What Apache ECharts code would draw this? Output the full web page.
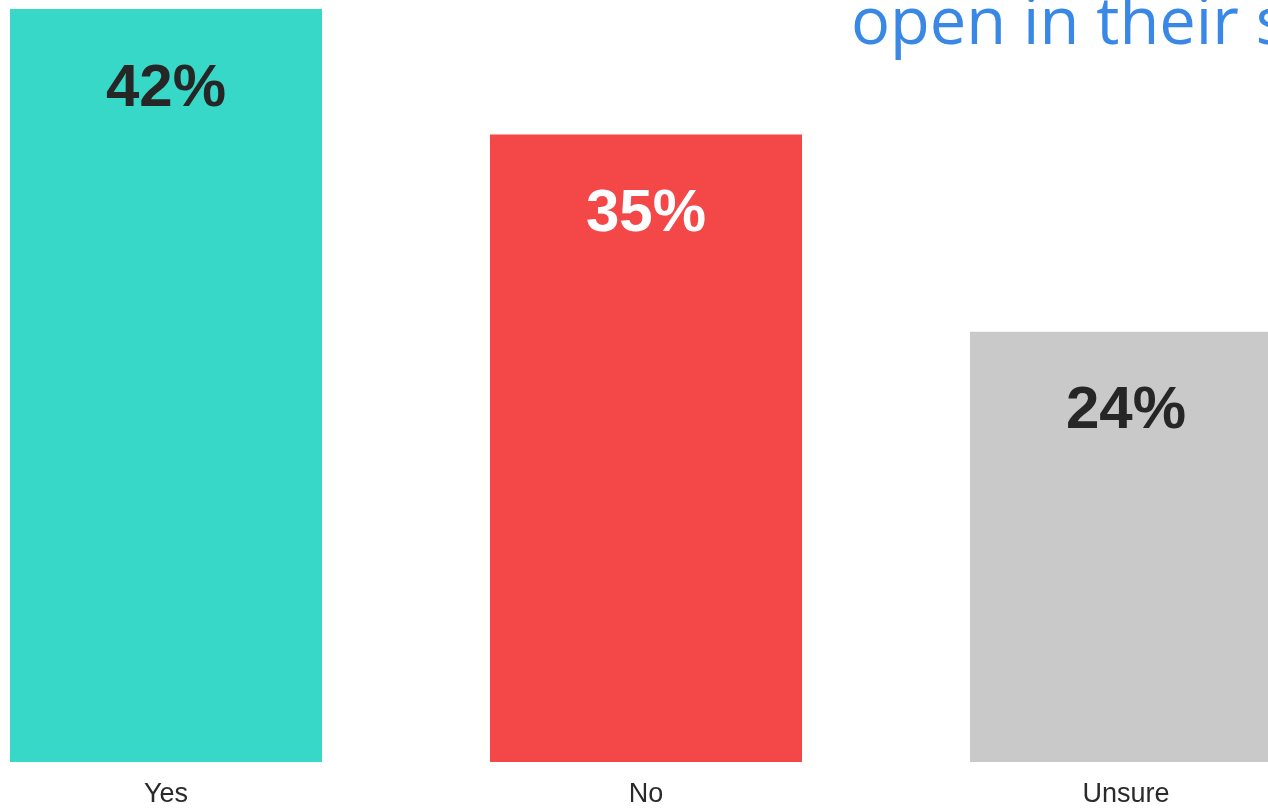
<!DOCTYPE html>
<html>
<head>
<meta charset="utf-8">
<style>
  html, body { margin: 0; padding: 0; background: #ffffff; overflow: hidden; width: 1268px; height: 808px; }
  /* the plot is wider than the page and is shifted left, so the outer bars run off both edges */
  #chart { width: 1440px; height: 808px; margin-left: -74px; }
</style>
<script src="https://cdn.jsdelivr.net/npm/echarts@6/dist/echarts.min.js"></script>
</head>
<body>
<div id="chart"></div>
<script>
// Survey answers and their shares (percent)
const categories = ['Yes', 'No', 'Unsure'];
const shares = [42, 35, 24];
const barColors = ['#38d8c9', '#f44747', '#c9c9c9'];
const labelColors = ['#262626', '#ffffff', '#262626'];
const headline = 'open in their s';

const chart = echarts.init(document.getElementById('chart'), null, { renderer: 'canvas' });

chart.setOption({
  animation: false,
  backgroundColor: '#ffffff',
  grid: { left: 0, right: 0, top: 9, bottom: 46, containLabel: false },
  xAxis: {
    type: 'category',
    data: categories,
    axisLine: { show: false },
    axisTick: { show: false },
    axisLabel: {
      margin: 19,
      color: '#2a2a2a',
      fontSize: 27,
      fontFamily: 'Liberation Sans, Arial, sans-serif'
    }
  },
  yAxis: {
    type: 'value',
    min: 0,
    max: 42,
    show: false,
    splitLine: { show: false }
  },
  graphic: [{
    type: 'text',
    left: 925,
    top: -7,
    style: {
      text: headline,
      fill: '#3a88e6',
      font: '65px "Open Sans", sans-serif'
    }
  }],
  series: [{
    type: 'bar',
    barWidth: '65%',
    data: shares.map((v, i) => ({
      value: v,
      itemStyle: { color: barColors[i] },
      label: { color: labelColors[i] }
    })),
    label: {
      show: true,
      position: 'insideTop',
      distance: 50,
      formatter: '{c}%',
      fontSize: 60,
      fontWeight: 'bold',
      fontFamily: 'Liberation Sans, Arial, sans-serif'
    }
  }]
});
</script>
</body>
</html>
